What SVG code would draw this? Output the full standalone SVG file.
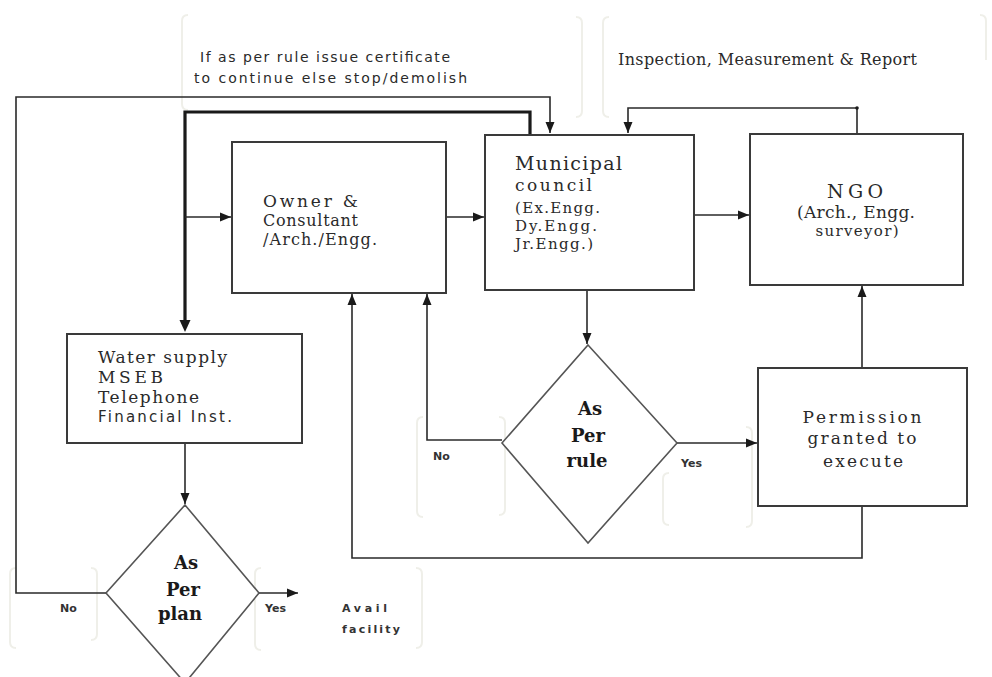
<svg xmlns="http://www.w3.org/2000/svg" width="992" height="677" viewBox="0 0 992 677">
<style>
.box{fill:#fff;stroke:#3a3a3a;stroke-width:2}
.dia{fill:#fff;stroke:#555;stroke-width:1.6}
.ln{fill:none;stroke:#2a2a2a;stroke-width:1.6}
.thick{fill:none;stroke:#1a1a1a;stroke-width:3.2}
.br{fill:none;stroke:#efefe9;stroke-width:2}
.sv{font-family:"DejaVu Serif","Liberation Serif",serif;fill:#2a2a2a}
.sb{font-family:"DejaVu Serif","Liberation Serif",serif;font-weight:bold;fill:#1a1a1a;font-size:18px;text-anchor:middle}
.ss{font-family:"DejaVu Sans","Liberation Sans",sans-serif;fill:#2a2a2a}
.lbl{font-family:"DejaVu Sans","Liberation Sans",sans-serif;font-weight:bold;fill:#333;font-size:11px}
</style>
<defs>
<marker id="ah" markerUnits="userSpaceOnUse" markerWidth="12" markerHeight="10" refX="11" refY="5" orient="auto">
<path d="M0,0.5 L11,5 L0,9.5 z" fill="#1a1a1a"/>
</marker>
</defs>
<rect width="992" height="677" fill="#fff"/>

<g id="brackets">
<path class="br" d="M188,15 Q182,15 182,21 L182,104 Q182,110 188,110"/>
<path class="br" d="M576,17 Q582,17 582,23 L582,111 Q582,117 576,117"/>
<path class="br" d="M609,17 Q603,17 603,23 L603,111 Q603,117 609,117"/>
<path class="br" d="M980,15 Q986,15 986,21 L986,60"/>
<path class="br" d="M423,417 Q417,417 417,423 L417,511 Q417,517 423,517"/>
<path class="br" d="M499,417 Q505,417 505,423 L505,509 Q505,515 499,515"/>
<path class="br" d="M669,473 Q663,473 663,479 L663,519 Q663,525 669,525"/>
<path class="br" d="M746,427 Q752,427 752,433 L752,521 Q752,527 746,527"/>
<path class="br" d="M16,568 Q10,568 10,574 L10,642 Q10,648 16,648"/>
<path class="br" d="M91,568 Q97,568 97,574 L97,634 Q97,640 91,640"/>
<path class="br" d="M261,568 Q255,568 255,574 L255,644 Q255,650 261,650"/>
<path class="br" d="M416,568 Q422,568 422,574 L422,642 Q422,648 416,648"/>
</g>

<g id="connectors">
<polyline class="ln" points="106,593 16,593 16,97 550,97 550,133" marker-end="url(#ah)"/>
<polyline class="thick" points="530,134 530,112 185,112 185,320"/>
<path d="M179.5,320 L185,332 L190.5,320 z" fill="#1a1a1a"/>
<line class="ln" x1="185" y1="217" x2="231" y2="217" marker-end="url(#ah)"/>
<line class="ln" x1="446" y1="217" x2="484" y2="217" marker-end="url(#ah)"/>
<line class="ln" x1="694" y1="215" x2="749" y2="215" marker-end="url(#ah)"/>
<polyline class="ln" points="857,134 857,108 628,108 628,133" marker-end="url(#ah)"/>
<circle cx="857" cy="108" r="1.8" fill="#1a1a1a"/>
<line class="ln" x1="587" y1="291" x2="587" y2="344" marker-end="url(#ah)"/>
<polyline class="ln" points="502,440 427,440 427,294" marker-end="url(#ah)"/>
<line class="ln" x1="677" y1="443" x2="757" y2="443" marker-end="url(#ah)"/>
<line class="ln" x1="862" y1="368" x2="862" y2="286" marker-end="url(#ah)"/>
<polyline class="ln" points="862,506 862,558 352,558 352,294" marker-end="url(#ah)"/>
<line class="ln" x1="185" y1="443" x2="185" y2="504" marker-end="url(#ah)"/>
<line class="ln" x1="259" y1="593" x2="298" y2="593" marker-end="url(#ah)"/>
</g>

<g id="note-certificate">
<text class="ss" font-size="14" x="200" y="62" textLength="250">If as per rule issue certificate</text>
<text class="ss" font-size="14" x="194" y="83" textLength="273">to continue else stop/demolish</text>
</g>
<g id="note-inspection">
<text class="sv" font-size="16" x="618" y="65" textLength="299">Inspection, Measurement &amp; Report</text>
</g>

<g id="owner">
<rect class="box" x="232" y="142" width="214" height="151"/>
<text class="sv" font-size="17" x="263" y="207" textLength="95">Owner &amp;</text>
<text class="sv" font-size="16" x="263" y="226" textLength="95">Consultant</text>
<text class="sv" font-size="16" x="263" y="245" textLength="114">/Arch./Engg.</text>
</g>

<g id="municipal">
<rect class="box" x="485" y="135" width="209" height="155"/>
<text class="sv" font-size="19" x="515" y="170" textLength="107">Municipal</text>
<text class="sv" font-size="17" x="515" y="191" textLength="77">council</text>
<text class="sv" font-size="15" x="515" y="213" textLength="85">(Ex.Engg.</text>
<text class="sv" font-size="15" x="515" y="231" textLength="82">Dy.Engg.</text>
<text class="sv" font-size="15" x="515" y="249" textLength="78">Jr.Engg.)</text>
</g>

<g id="ngo">
<rect class="box" x="750" y="134" width="213" height="151"/>
<text class="sv" font-size="19" x="855" y="198" text-anchor="middle" textLength="56">NGO</text>
<text class="sv" font-size="17" x="856" y="218" text-anchor="middle" textLength="118">(Arch., Engg.</text>
<text class="sv" font-size="15" x="857" y="236" text-anchor="middle" textLength="83">surveyor)</text>
</g>

<g id="utilities">
<rect class="box" x="67" y="334" width="235" height="109"/>
<text class="sv" font-size="17" x="98" y="363" textLength="129">Water supply</text>
<text class="sv" font-size="17" x="98" y="383" textLength="65">MSEB</text>
<text class="sv" font-size="17" x="98" y="403" textLength="101">Telephone</text>
<text class="ss" font-size="15" x="98" y="422" textLength="134">Financial Inst.</text>
</g>

<g id="as-per-rule">
<polygon class="dia" points="588,345 677,443 588,543 502,443"/>
<text class="sb" x="590" y="415">As</text>
<text class="sb" x="588" y="442">Per</text>
<text class="sb" x="587" y="467">rule</text>
</g>

<g id="permission">
<rect class="box" x="758" y="368" width="209" height="138"/>
<text class="sv" font-size="17" x="862" y="423" text-anchor="middle" textLength="119">Permission</text>
<text class="sv" font-size="17" x="862" y="444" text-anchor="middle" textLength="109">granted to</text>
<text class="sv" font-size="17" x="863" y="467" text-anchor="middle" textLength="80">execute</text>
</g>

<g id="as-per-plan">
<polygon class="dia" points="185,505 259,593 185,683 106,593"/>
<text class="sb" x="186" y="569">As</text>
<text class="sb" x="183" y="596">Per</text>
<text class="sb" x="180" y="620">plan</text>
</g>

<g id="labels">
<text class="lbl" x="60" y="612">No</text>
<text class="lbl" x="265" y="612">Yes</text>
<text class="lbl" x="433" y="460">No</text>
<text class="lbl" x="681" y="467">Yes</text>
</g>

<g id="avail">
<text class="lbl" font-size="13" x="342" y="612" textLength="45">Avail</text>
<text class="lbl" font-size="13" x="342" y="633" textLength="58">facility</text>
</g>
</svg>
